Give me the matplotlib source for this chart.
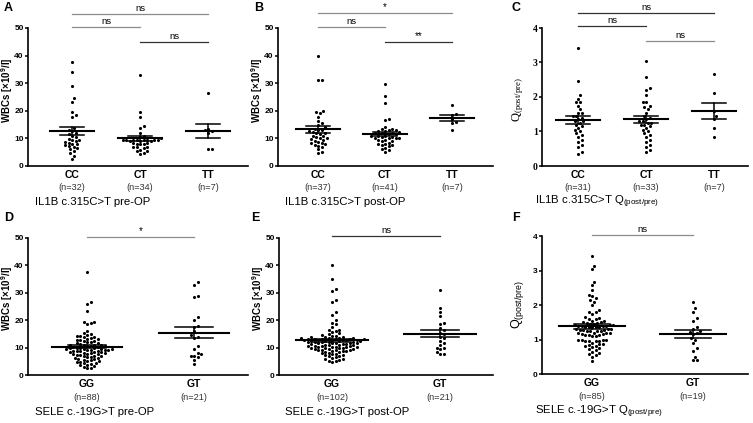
import numpy as np
import matplotlib
matplotlib.use('Agg')
import matplotlib.pyplot as plt

plt.rcParams['font.family'] = ['Liberation Sans', 'DejaVu Sans']
plt.rcParams['mathtext.fontset'] = 'custom'
plt.rcParams['mathtext.rm'] = 'Liberation Sans'
plt.rcParams['mathtext.bf'] = 'Liberation Sans:bold'

# --- data ---
a_cc = [37.5, 34, 29, 24.5, 23.3, 19.5, 18.5, 17.8, 13.6, 13, 12.5, 11.9, 11.5, 11, 10.4, 9.8,
        9.5, 9.3, 9, 8.8, 8.5, 8.1, 7.9, 7.5, 7.1, 6.9, 6.5, 6, 5.6, 4.6, 3.6, 2.4]
a_ct = [33, 19.7, 17.9, 14.5, 13.6, 12, 11, 10.5, 10.2, 9.6, 9.6, 9.5, 9.5, 9.4, 9.4, 9.3, 9.3,
        9.2, 9.2, 9.1, 8.3, 8.2, 8.1, 8.0, 7.8, 7.0, 6.9, 6.8, 6.5, 5.8, 5.6, 5.5, 4.6, 4.5]
a_tt = [26.5, 13.5, 13, 12.5, 12, 6, 6]

b_cc = [40, 31.2, 31, 19.9, 19.5, 19.1, 17.9, 16.4, 15.5, 14.9, 14, 13.5, 13.2, 13, 12.5, 12.4,
        12, 11.8, 11.5, 11, 10.8, 10.5, 10, 10, 9.8, 9.5, 9, 8.8, 8.5, 8.3, 8, 7.5, 7.3, 7, 6,
        5.2, 4.6]
b_ct = [29.6, 25.4, 22.9, 17, 16.5, 14, 13.5, 13.5, 13, 13, 12.5, 12.5, 12.2, 12, 12, 12, 11.5,
        11.5, 11, 11, 11, 10.5, 10.5, 10, 10, 10, 10, 9.5, 9.5, 9, 9, 8.5, 8, 8, 7.5, 7.5, 7.2,
        6.5, 6, 5.8, 5.2]
b_tt = [22, 19, 18.5, 17, 16, 15.5, 13]

c_cc = [3.43, 2.45, 2.05, 1.95, 1.85, 1.85, 1.75, 1.65, 1.55, 1.55, 1.45, 1.45, 1.4, 1.35, 1.3,
        1.3, 1.25, 1.2, 1.15, 1.1, 1.05, 1.0, 0.95, 0.9, 0.85, 0.75, 0.7, 0.6, 0.55, 0.4, 0.35]
c_ct = [3.05, 2.58, 2.27, 2.2, 2.05, 1.85, 1.85, 1.75, 1.7, 1.65, 1.55, 1.45, 1.4, 1.35, 1.3,
        1.3, 1.25, 1.25, 1.2, 1.2, 1.15, 1.1, 1.05, 1.0, 0.95, 0.9, 0.85, 0.75, 0.7, 0.6, 0.55,
        0.45, 0.4]
c_tt = [2.67, 2.12, 1.6, 1.45, 1.35, 1.1, 0.85]

d_gg = [37.5, 26.5, 26, 23.5, 19.5, 19.4, 19, 18.5, 16,
        15.5, 15.0, 14.6, 14.3, 14.1, 13.9, 13.7, 13.5, 13.3, 13.1, 12.8,
        12.6, 12.5, 12.3, 12.1, 11.9, 11.7, 11.5, 11.3, 11.1, 11.0, 10.9,
        10.8, 10.7, 10.6, 10.5, 10.3, 10.1, 10.0, 9.9, 9.8, 9.7, 9.65,
        9.6, 9.5, 9.4, 9.3, 9.2, 9.1, 9.0, 8.9, 8.8, 8.7,
        8.6, 8.5, 8.4, 8.3, 8.2, 8.0, 7.9, 7.8, 7.6, 7.5,
        7.4, 7.3, 7.1, 7.0, 6.9, 6.7, 6.5, 6.3, 6.1, 6.0,
        5.8, 5.6, 5.4, 5.2, 5.0, 4.8, 4.6, 4.4, 4.2, 4.0,
        3.8, 3.5, 3.2, 2.9, 2.6, 2.4]
d_gt = [34, 33, 29, 28.5, 21, 20, 18, 17.5, 16, 14.5, 14, 13.5, 10.5, 9.5, 8, 7.5, 7, 7, 6.5,
        5.5, 4]

e_gg = [40, 35, 31.5, 30.5, 27.5, 26.5, 23, 22, 20, 19, 18.5, 17.5,
        16.6, 16.3, 16.0, 15.6, 15.2, 14.9, 14.6, 14.3, 14.1, 13.9,
        13.8, 13.7, 13.6, 13.5, 13.4, 13.35, 13.3, 13.25, 13.2, 13.15, 13.1, 13.0, 12.95, 12.9,
        12.8, 12.7, 12.65, 12.6, 12.5, 12.4, 12.35, 12.3, 12.2, 12.1, 12.0, 11.95, 11.9,
        11.8, 11.7, 11.6, 11.55, 11.5, 11.4, 11.3, 11.2, 11.1, 11.0, 10.9,
        10.8, 10.7, 10.65, 10.6, 10.5, 10.4, 10.3, 10.25, 10.2, 10.1, 10.0, 9.9,
        9.8, 9.7, 9.6, 9.5, 9.4, 9.3, 9.2, 9.1, 9.0, 8.9,
        8.8, 8.7, 8.5, 8.4, 8.2, 8.0, 7.8, 7.6, 7.4, 7.2,
        7.0, 6.8, 6.5, 6.2, 6.0, 5.7, 5.4, 5.2, 5.0, 4.8]
e_gt = [31, 24.5, 23, 21.5, 19, 18.5, 17, 16.5, 15.5, 15, 14, 13.5, 12.5, 11.5, 11, 10, 10, 9.5,
        8.5, 7.5, 7.5]

f_gg = [3.43, 3.14, 3.05, 2.68, 2.58, 2.43, 2.3, 2.25, 2.2, 2.15, 2.1, 2.0, 1.85, 1.8, 1.8, 1.75,
        1.65, 1.62, 1.6, 1.58, 1.55, 1.53, 1.5, 1.5, 1.48, 1.47,
        1.45, 1.44, 1.43, 1.42, 1.41, 1.4, 1.4, 1.39, 1.38, 1.37, 1.36, 1.36, 1.35, 1.35,
        1.3, 1.3, 1.29, 1.28, 1.28, 1.27, 1.26, 1.26, 1.25, 1.25,
        1.2, 1.2, 1.19, 1.18, 1.16, 1.15, 1.14, 1.13, 1.12, 1.11, 1.1,
        1.0, 1.0, 0.99, 0.98, 0.97, 0.96, 0.96, 0.95,
        0.9, 0.88, 0.86, 0.85, 0.82, 0.8, 0.78, 0.75, 0.72, 0.7,
        0.65, 0.6, 0.58, 0.55, 0.5, 0.38]
f_gt = [2.1, 1.9, 1.8, 1.62, 1.55, 1.35, 1.3, 1.25, 1.22, 1.2, 1.15, 1.05, 1.0, 0.9, 0.75, 0.68,
        0.5, 0.4, 0.4]

il1b_names = ['CC', 'CT', 'TT']
sele_names = ['GG', 'GT']

W, H = 753, 423
fig = plt.figure(figsize=(W / 100, H / 100), dpi=100)
PT = 0.72  # points per pixel


def fx(px):
    return px / W


def fy(py):
    return 1 - py / H


def swarm(vals, xppu, yppu, d=3.5):
    # simple beeswarm: nearest free horizontal slot for each point
    vals = np.asarray(vals, float)
    xs = np.zeros(len(vals))
    placed = []
    step = d * 0.5
    for i in np.argsort(vals):
        y = vals[i] * yppu
        k = 0
        while True:
            cands = [0.0] if k == 0 else [k * step, -k * step]
            ok = None
            for c in cands:
                if all((c - px) ** 2 + (y - py) ** 2 >= d * d for px, py in placed):
                    ok = c
                    break
            if ok is not None:
                break
            k += 1
        placed.append((ok, y))
        xs[i] = ok / xppu
    return xs


def panel(box, c0, sp, ymax, groups, names, ns, bars, letter, letter_xy, ylab, ylab_xy,
          caption, cap_xy, serif=False):
    x0, x1, y0, y1 = box
    ax = fig.add_axes([fx(x0), fy(y1), fx(x1 - x0), (y1 - y0) / H])
    ax.set_xlim((x0 - c0) / sp, (x1 - c0) / sp)
    ax.set_ylim(0, ymax)
    yppu = (y1 - y0) / ymax
    for i, vals in enumerate(groups):
        xs = swarm(vals, sp, yppu)
        ax.scatter(i + xs, vals, s=5, color='black', linewidths=0, zorder=3, clip_on=False)
        m = np.mean(vals)
        se = np.std(vals, ddof=1) / np.sqrt(len(vals))
        ax.plot([i - 0.33, i + 0.33], [m, m], color='black', lw=1.5, zorder=4)
        ax.plot([i, i], [m - se, m + se], color='black', lw=1.1, zorder=4)
        for yy in (m - se, m + se):
            ax.plot([i - 0.18, i + 0.18], [yy, yy], color='black', lw=1.1, zorder=4)
    for s in ('top', 'right'):
        ax.spines[s].set_visible(False)
    for s in ('left', 'bottom'):
        ax.spines[s].set_linewidth(1.2)
    ax.set_xticks([])
    ax.set_yticks(np.linspace(0, ymax, 6 if ymax == 50 else 5))
    ax.tick_params(axis='y', length=2.5, width=1.1, pad=0.5)
    if serif:
        ax.set_yticklabels([f'{int(t)}' for t in ax.get_yticks()], family='Liberation Serif',
                           fontweight='bold', fontsize=7)
    else:
        ax.set_yticklabels([f'{int(t)}' for t in ax.get_yticks()], fontweight='bold', fontsize=6)
    for i, (nm, n) in enumerate(zip(names, ns)):
        ax.annotate(nm, xy=(i, 0), xycoords=('data', 'axes fraction'),
                    xytext=(0, -9 * PT), textcoords='offset points', ha='center', va='center',
                    fontsize=7.5, fontweight='bold', annotation_clip=False)
        ax.annotate(f'(n={n})', xy=(i, 0), xycoords=('data', 'axes fraction'),
                    xytext=(0, -22 * PT), textcoords='offset points', ha='center', va='center',
                    fontsize=6.6, color='#333333', annotation_clip=False)
    for a, b, ypx, lab, col in bars:
        yd = ymax * (y1 - ypx) / (y1 - y0)
        ax.plot([a, b], [yd, yd], color=col, lw=0.9, clip_on=False)
        ax.annotate(lab, xy=((a + b) / 2, yd), xytext=(0, 1.0), textcoords='offset points',
                    ha='center', va='bottom', fontsize=6.8 if lab == 'ns' else 7,
                    annotation_clip=False)
    fig.text(fx(letter_xy[0]), fy(letter_xy[1]), letter, fontsize=9, fontweight='bold',
             ha='left', va='center')
    if serif:
        fig.text(fx(ylab_xy[0]), fy(ylab_xy[1]), ylab, rotation=90, ha='center', va='center',
                 family='Liberation Serif', fontsize=9)
    elif 'WBC' in ylab:
        fig.text(fx(ylab_xy[0]), fy(ylab_xy[1]), ylab, rotation=90, ha='center', va='center',
                 fontsize=7, fontweight='bold')
    else:
        fig.text(fx(ylab_xy[0]), fy(ylab_xy[1]), ylab, rotation=90, ha='center', va='center',
                 fontsize=9)
    fig.text(fx(cap_xy[0]), fy(cap_xy[1]), caption, fontsize=8.2, ha='left', va='center')
    return ax


wbc = r'WBCs [×10$^\mathbf{9}$/l]'
q = r'$\mathregular{Q_{(post/pre)}}$'
gray, dark = '#8c8c8c', '#333333'

panel((28, 248, 28, 166), 72, 68, 50, [a_cc, a_ct, a_tt], il1b_names, [32, 34, 7],
      [(0, 2, 14, 'ns', gray), (0, 1, 27, 'ns', gray), (1, 2, 42, 'ns', dark)],
      'A', (4, 8), wbc, (7, 90), 'IL1B c.315C>T pre-OP', (35, 202))
panel((278, 493, 28, 166), 318, 67, 50, [b_cc, b_ct, b_tt], il1b_names, [37, 41, 7],
      [(0, 2, 13, '*', gray), (0, 1, 27, 'ns', gray), (1, 2, 42, '**', dark)],
      'B', (254, 8), wbc, (257, 90), 'IL1B c.315C>T post-OP', (285, 202))
panel((542, 748, 28, 166), 578, 68, 4, [c_cc, c_ct, c_tt], il1b_names, [31, 33, 7],
      [(0, 2, 13, 'ns', dark), (0, 1, 26, 'ns', dark), (1, 2, 41, 'ns', gray)],
      'C', (512, 8), q, (518, 100), r'IL1B c.315C>T Q$_\mathregular{(post/pre)}$', (535, 202),
      serif=True)
panel((28, 248, 238, 375), 87, 107, 50, [d_gg, d_gt], sele_names, [88, 21],
      [(0, 1, 237, '*', gray)],
      'D', (4, 218), wbc, (7, 298), 'SELE c.-19G>T pre-OP', (35, 412))
panel((279, 493, 238, 375), 332, 108, 50, [e_gg, e_gt], sele_names, [102, 21],
      [(0, 1, 236, 'ns', dark)],
      'E', (251, 218), wbc, (258, 298), 'SELE c.-19G>T post-OP', (285, 412))
panel((542, 748, 236, 374), 592, 101, 4, [f_gg, f_gt], sele_names, [85, 19],
      [(0, 1, 235, 'ns', gray)],
      'F', (512, 218), q, (518, 305), r'SELE c.-19G>T Q$_\mathregular{(post/pre)}$', (535, 412))

fig.savefig('out.png', dpi=100)
